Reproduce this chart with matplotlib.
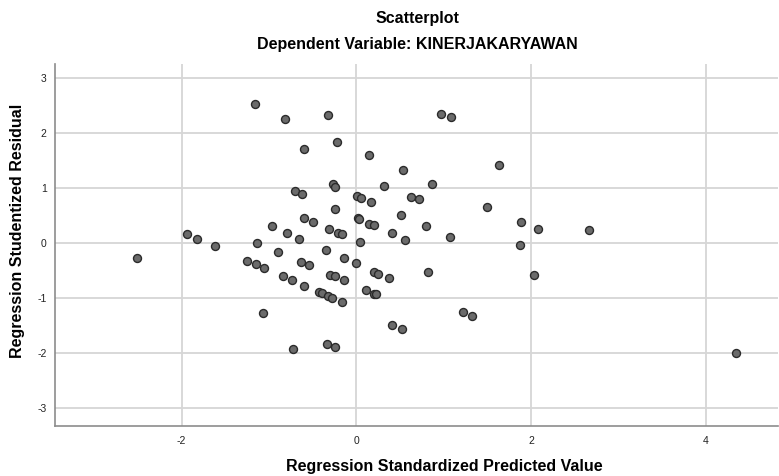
import numpy as np
import matplotlib.pyplot as plt

plt.rcParams['font.family'] = ['Liberation Sans', 'DejaVu Sans']
plt.rcParams['axes.unicode_minus'] = False

# standardized predicted value (x) vs studentized residual (y)
pred = [-1.159, -0.820, -0.698, -1.942, -1.819, -1.617, -1.133, -0.961, -0.793, -0.650,
        -0.320, 0.976, 1.090, -0.603, -0.217, 0.149, 0.541, 1.636, -0.618, -0.263,
        -0.244, 0.320, 0.870, 0.004, 0.053, 0.168, 0.629, 0.717, -0.244, 1.503,
        -0.595, -0.492, -0.313, -0.210, -0.160, 0.015, 0.030, 0.149, 0.198, 0.507,
        0.404, 0.797, 1.068, 0.561, 1.884, 2.079, 1.876, 0.046, 2.666, 4.348,
        -2.506, -0.896, -1.247, -1.152, -1.056, -0.843, -0.740, -1.068, -0.729, -0.347,
        -0.141, -0.004, -0.637, -0.541, -0.599, -0.297, -0.244, -0.141, 0.203, 0.252,
        0.370, 0.816, 2.033, 0.107, 0.203, 0.221, -0.431, -0.397, -0.324, -0.283,
        -0.168, 1.224, 1.327, 0.408, 0.519, -0.336, -0.248]
resid = [2.533, 2.260, 0.945, 0.170, 0.080, -0.055, 0.010, 0.315, 0.190, 0.075,
         2.320, 2.345, 2.280, 1.700, 1.836, 1.590, 1.320, 1.418, 0.890, 1.067,
         1.024, 1.042, 1.078, 0.860, 0.824, 0.745, 0.843, 0.806, 0.624, 0.648,
         0.460, 0.382, 0.260, 0.187, 0.157, 0.450, 0.430, 0.351, 0.321, 0.509,
         0.182, 0.309, 0.115, 0.055, 0.382, 0.249, -0.040, 0.012, 0.230, -2.000,
         -0.267, -0.158, -0.321, -0.388, -0.455, -0.600, -0.673, -1.273, -1.920, -0.127,
         -0.267, -0.364, -0.340, -0.400, -0.776, -0.576, -0.606, -0.679, -0.521, -0.558,
         -0.636, -0.533, -0.576, -0.855, -0.933, -0.933, -0.897, -0.915, -0.964, -1.000,
         -1.073, -1.255, -1.327, -1.485, -1.564, -1.824, -1.879]

xticks = [-2, 0, 2, 4]
yticks = [-3, -2, -1, 0, 1, 2, 3]

W, H = 779, 476
fig = plt.figure(figsize=(W / 100, H / 100), dpi=100)
ax = fig.add_axes([55 / W, (H - 426) / H, (778 - 55) / W, (426 - 64) / H])

ax.scatter(pred, resid, s=33, c="#6b6b6b", edgecolors="#2b2b2b", linewidths=1.0, zorder=3)

ax.set_xlim(-3.45, 4.83)
ax.set_ylim(-3.32, 3.25)
ax.set_xticks(xticks)
ax.set_yticks(yticks)
ax.grid(True, color="#d6d6d6", lw=1.3, zorder=0)
ax.set_axisbelow(True)

for s in ["top", "right"]:
    ax.spines[s].set_visible(False)
for s in ["left", "bottom"]:
    ax.spines[s].set_color("#8c8c8c")
    ax.spines[s].set_linewidth(1.2)

ax.tick_params(length=0, labelsize=7.5, colors="#222222")
ax.tick_params(axis="x", pad=7)
ax.tick_params(axis="y", pad=6)

fig.text(417 / W, 1 - 19 / H, "Scatterplot", ha="center", va="center",
         fontsize=11.5, fontweight="bold")
fig.text(417 / W, 1 - 44 / H, "Dependent Variable: KINERJAKARYAWAN", ha="center", va="center",
         fontsize=11.5, fontweight="bold")
fig.text(444 / W, 1 - 467 / H, "Regression Standardized Predicted Value", ha="center", va="center",
         fontsize=11.5, fontweight="bold")
fig.text(18 / W, 1 - 231 / H, "Regression Studentized Residual", ha="center", va="center",
         rotation=90, fontsize=11.5, fontweight="bold")

plt.savefig("out.png", dpi=100)
